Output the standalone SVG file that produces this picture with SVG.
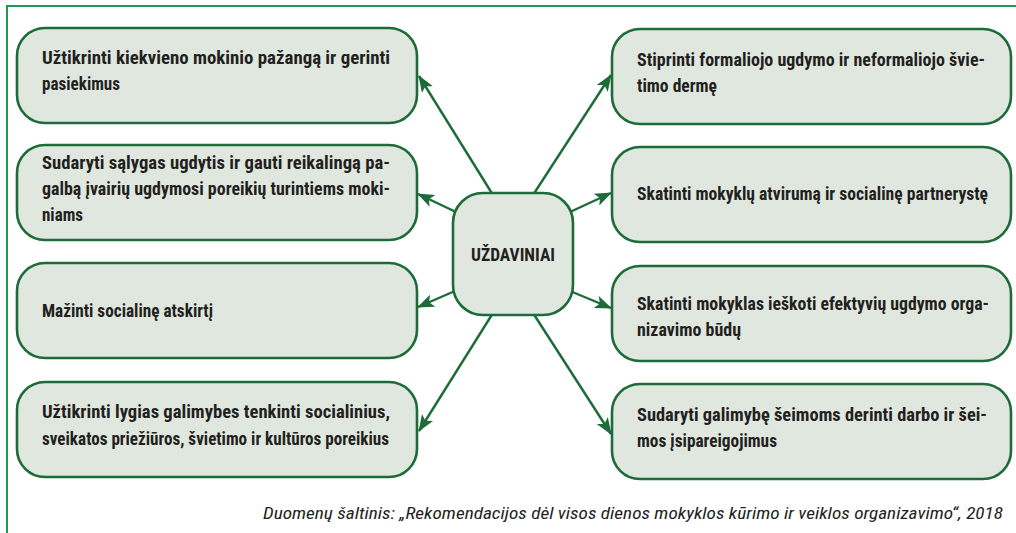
<svg xmlns="http://www.w3.org/2000/svg" width="1016" height="533" viewBox="0 0 1016 533">
<style>
.frame{fill:none;stroke:#1f9a4e;stroke-width:2}
.box{fill:#e0e7df;stroke:#1c6b38;stroke-width:2.6}
.conn{stroke:#1c6b38;stroke-width:2.4;fill:none;marker-end:url(#arr)}
.t{font-family:"Liberation Sans Narrow","Roboto Condensed","DejaVu Sans Condensed","Liberation Sans",sans-serif;font-stretch:condensed;font-weight:bold;font-size:17.5px;fill:#231f20}
.cap{font-family:"Liberation Sans Narrow","Roboto Condensed","DejaVu Sans Condensed","Liberation Sans",sans-serif;font-stretch:condensed;font-style:italic;font-size:16px;fill:#231f20}
</style>
<defs>
<marker id="arr" markerUnits="userSpaceOnUse" markerWidth="17" markerHeight="13" viewBox="0 0 17 13" refX="16" refY="6.5" orient="auto">
<path d="M0,0 L17,6.5 L0,13 L4,6.5 z" fill="#1c6b38"/>
</marker>
</defs>
<rect class="frame" x="7" y="6" width="1030" height="560"/>
<g id="connectors">
<path class="conn" d="M493,195 L419,76"/>
<path class="conn" d="M456,212 L418,194"/>
<path class="conn" d="M455,291 L418,307"/>
<path class="conn" d="M493,313 L419,431"/>
<path class="conn" d="M533,195 L611,75"/>
<path class="conn" d="M570,212 L611,193"/>
<path class="conn" d="M570,291 L611,308"/>
<path class="conn" d="M533,313 L611,434"/>
</g>
<g id="center">
<rect class="box" x="453" y="193" width="120" height="122" rx="30"/>
<text class="t" x="471" y="261" textLength="84" lengthAdjust="spacingAndGlyphs">UŽDAVINIAI</text>
</g>
<g id="l1">
<rect class="box" x="17" y="28" width="400" height="95" rx="28"/>
<text class="t" x="42" y="64" textLength="348" lengthAdjust="spacingAndGlyphs">Užtikrinti kiekvieno mokinio pažangą ir gerinti</text>
<text class="t" x="42" y="90" textLength="78" lengthAdjust="spacingAndGlyphs">pasiekimus</text>
</g>
<g id="l2">
<rect class="box" x="17" y="145" width="400" height="95" rx="28"/>
<text class="t" x="42" y="169" textLength="348" lengthAdjust="spacingAndGlyphs">Sudaryti sąlygas ugdytis ir gauti reikalingą pa-</text>
<text class="t" x="42" y="195" textLength="348" lengthAdjust="spacingAndGlyphs">galbą įvairių ugdymosi poreikių turintiems moki-</text>
<text class="t" x="42" y="221" textLength="41" lengthAdjust="spacingAndGlyphs">niams</text>
</g>
<g id="l3">
<rect class="box" x="17" y="263" width="400" height="95" rx="28"/>
<text class="t" x="42" y="317" textLength="171" lengthAdjust="spacingAndGlyphs">Mažinti socialinę atskirtį</text>
</g>
<g id="l4">
<rect class="box" x="17" y="382" width="400" height="95" rx="28"/>
<text class="t" x="42" y="418" textLength="348" lengthAdjust="spacingAndGlyphs">Užtikrinti lygias galimybes tenkinti socialinius,</text>
<text class="t" x="42" y="445" textLength="347" lengthAdjust="spacingAndGlyphs">sveikatos priežiūros, švietimo ir kultūros poreikius</text>
</g>
<g id="r1">
<rect class="box" x="612" y="29" width="399" height="95" rx="28"/>
<text class="t" x="637" y="66" textLength="348" lengthAdjust="spacingAndGlyphs">Stiprinti formaliojo ugdymo ir neformaliojo švie-</text>
<text class="t" x="637" y="92" textLength="80" lengthAdjust="spacingAndGlyphs">timo dermę</text>
</g>
<g id="r2">
<rect class="box" x="612" y="147" width="399" height="95" rx="28"/>
<text class="t" x="637" y="200" textLength="351" lengthAdjust="spacingAndGlyphs">Skatinti mokyklų atvirumą ir socialinę partnerystę</text>
</g>
<g id="r3">
<rect class="box" x="612" y="266" width="399" height="95" rx="28"/>
<text class="t" x="637" y="310" textLength="352" lengthAdjust="spacingAndGlyphs">Skatinti mokyklas ieškoti efektyvių ugdymo orga-</text>
<text class="t" x="637" y="336" textLength="104" lengthAdjust="spacingAndGlyphs">nizavimo būdų</text>
</g>
<g id="r4">
<rect class="box" x="612" y="384" width="399" height="95" rx="28"/>
<text class="t" x="637" y="421" textLength="350" lengthAdjust="spacingAndGlyphs">Sudaryti galimybę šeimoms derinti darbo ir šei-</text>
<text class="t" x="637" y="447" textLength="140" lengthAdjust="spacingAndGlyphs">mos įsipareigojimus</text>
</g>
<text class="cap" x="263" y="519" textLength="740" lengthAdjust="spacingAndGlyphs">Duomenų šaltinis: „Rekomendacijos dėl visos dienos mokyklos kūrimo ir veiklos organizavimo“, 2018</text>
</svg>
